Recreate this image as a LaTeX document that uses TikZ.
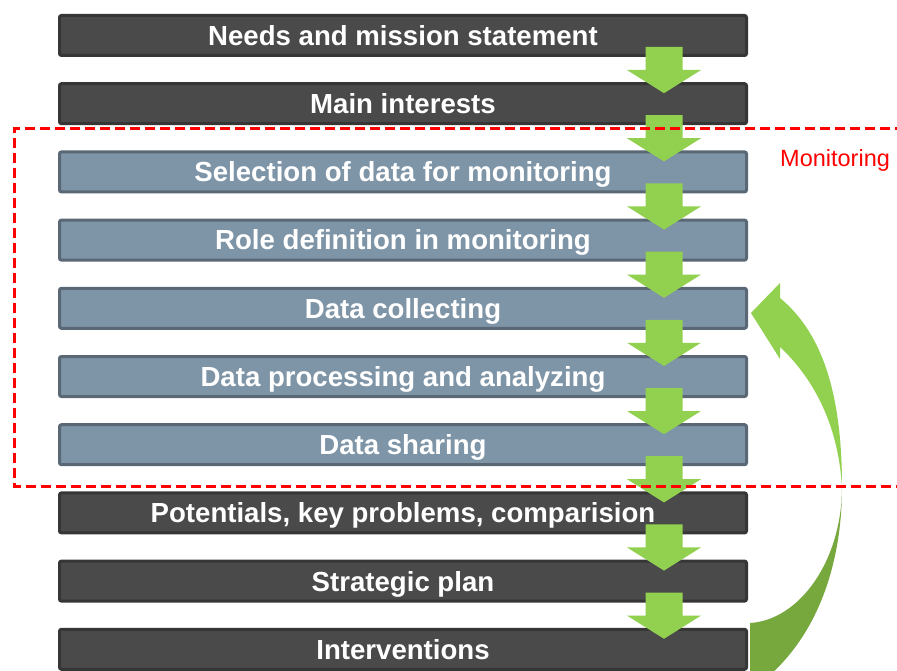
\documentclass[tikz,border=0pt]{standalone}
\usepackage{fontspec}
\setmainfont{Liberation Sans}
\usetikzlibrary{calc}
\definecolor{boxdark}{HTML}{4A4A4A}
\definecolor{boxdarkline}{HTML}{363636}
\definecolor{boxblue}{HTML}{7E94A7}
\definecolor{boxblueline}{HTML}{5A6876}
\definecolor{arrgreen}{HTML}{92D050}
\definecolor{arrdark}{HTML}{77A83E}
\tikzset{
  stagebox/.style={rectangle, rounded corners=2pt, line width=3pt, minimum width=687pt, minimum height=40pt,
    inner sep=0pt, text=white, font=\bfseries\fontsize{27.6}{30}\selectfont, text height=19.8pt, text depth=0pt},
  darkbox/.style={stagebox, fill=boxdark, draw=boxdarkline},
  bluebox/.style={stagebox, fill=boxblue, draw=boxblueline},
  monframe/.style={draw=red, line width=3pt, dash pattern=on 10pt off 5pt},
  monlabel/.style={text=red, font=\fontsize{23.5}{26}\selectfont, inner sep=0pt, text height=16.8pt, text depth=0pt, anchor=west}
}
\newcommand\blkarrow[2]{%
  \fill[arrgreen] ([xshift=242.5pt,yshift=-33pt]#1.north) -- ([xshift=279.5pt,yshift=-33pt]#1.north)
    -- ([xshift=279.5pt,yshift=-56pt]#1.north) -- ([xshift=298pt,yshift=-56pt]#1.north)
    -- ([xshift=261pt,yshift=-11pt]#2.north) -- ([xshift=224pt,yshift=-56pt]#1.north)
    -- ([xshift=242.5pt,yshift=-56pt]#1.north) -- cycle;}
\begin{document}
\begin{tikzpicture}[x=1pt,y=-1pt]
\useasboundingbox (0,0) rectangle (897,671);
\clip (0,0) rectangle (897,671);
\fill[white] (0,0) rectangle (897,671);
% boxes
\node[darkbox] (b1)  at (403,35.5)  {Needs and mission statement};
\node[darkbox] (b2)  at (403,103.7) {Main interests};
\node[bluebox] (b3)  at (403,171.9) {Selection of data for monitoring};
\node[bluebox] (b4)  at (403,240.1) {Role definition in monitoring};
\node[bluebox] (b5)  at (403,308.3) {Data collecting};
\node[bluebox] (b6)  at (403,376.5) {Data processing and analyzing};
\node[bluebox] (b7)  at (403,444.7) {Data sharing};
\node[darkbox] (b8)  at (403,512.9) {Potentials, key problems, comparision};
\node[darkbox] (b9)  at (403,581.1) {Strategic plan};
\node[darkbox] (b10) at (403,649.3) {Interventions};
% down arrows
\blkarrow{b1}{b2}
\blkarrow{b2}{b3}
\blkarrow{b3}{b4}
\blkarrow{b4}{b5}
\blkarrow{b5}{b6}
\blkarrow{b6}{b7}
\blkarrow{b7}{b8}
\blkarrow{b8}{b9}
\blkarrow{b9}{b10}
% curved feedback arrow
\fill[arrdark] (842,487) .. controls (842,560) and (820,630) .. (770,675) -- (750,675) -- (750,623)
  .. controls (800,620) and (842,560) .. (842,487) -- cycle;
\fill[arrgreen] (842,487) .. controls (842,400) and (825,335) .. (780,298) -- (780,283) -- (751,313)
  -- (780,359) -- (780,347) .. controls (810,375) and (838,420) .. (842,487) -- cycle;
% monitoring frame
\draw[monframe] (920,129) -- (14,129) -- (14,486) -- (920,486);
\node[monlabel] (mon) at (780,158) {Monitoring};
\end{tikzpicture}
\end{document}
